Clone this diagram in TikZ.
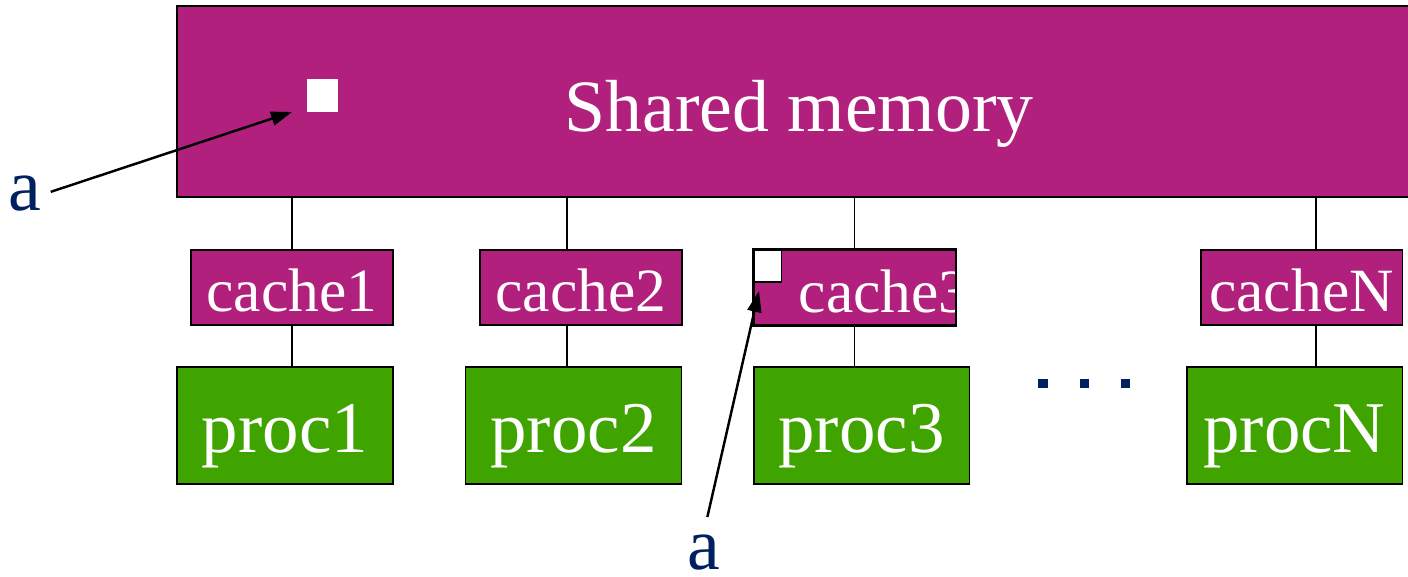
\documentclass[tikz,border=0pt]{standalone}
\usepackage{fontspec}
\setmainfont{Liberation Serif}
\usetikzlibrary{arrows.meta}
\definecolor{memred}{RGB}{177,32,124}
\definecolor{procgreen}{RGB}{64,164,0}
\definecolor{labelblue}{RGB}{0,32,96}

\begin{document}
\begin{tikzpicture}[x=0.02cm, y=-0.02cm, line width=1.1pt,
	membox/.style={draw, fill=memred, inner sep=0pt},
	memtext/.style={text=white, inner sep=0pt, font=\fontsize{42}{48}\selectfont},
	cachebox/.style={draw, fill=memred, text=white, inner sep=0pt,
		minimum width=4.04cm, text height=1.24cm, text depth=0.26cm,
		font=\fontsize{35}{40}\selectfont},
	procbox/.style={draw, fill=procgreen, text=white, inner sep=0pt,
		minimum width=4.32cm, text height=1.72cm, text depth=0.62cm,
		font=\fontsize{41.5}{48}\selectfont},
	blockbox/.style={fill=white, inner sep=0pt},
	pointlabel/.style={text=labelblue, inner sep=1pt, font=\fontsize{42}{48}\selectfont},
	pointer/.style={line width=1.4pt, -{Triangle[length=0.42cm, width=0.28cm]}}]
	\useasboundingbox (0,0) rectangle (1408,577);
	% shared memory
	\node[membox, minimum width=24.86cm, minimum height=3.82cm] (mem) at (798.5,101.5) {};
	\node[memtext, anchor=base] (memlabel) at (799,132) {Shared memory};
	\node[blockbox, minimum width=0.62cm, minimum height=0.66cm] (blkmem) at (322.5,95.5) {};
	% caches
	\node[cachebox] (cache1) at (292,287.5) {cache1};
	\node[cachebox] (cache2) at (581,287.5) {cache2};
	\node[cachebox] (cache3) at (854.5,287.5) {};
	\begin{scope}
		\clip (cache3.south west) rectangle (cache3.north east);
		\node[memtext, font=\fontsize{35}{40}\selectfont, anchor=base west] (cache3label) at (798,312) {cache3};
	\end{scope}
	\draw (cache3.south west) rectangle (cache3.north east);
	\node[blockbox, draw, anchor=north west, minimum width=0.56cm, minimum height=0.64cm] (blkcache) at (cache3.north west) {};
	\node[cachebox] (cacheN) at (1301.5,287.5) {cacheN};
	% processors
	\node[procbox] (proc1) at (285,425.5) {proc1};
	\node[procbox] (proc2) at (573.5,425.5) {proc2};
	\node[procbox] (proc3) at (861.5,425.5) {proc3};
	\node[procbox] (procN) at (1294.5,425.5) {procN};
	% bus taps
	\coordinate (tap2) at (567,0);
	\coordinate (tapN) at (1316,0);
	\draw (cache1.north |- mem.south) -- (cache1.north);
	\draw (cache1.south) -- (cache1.south |- proc1.north);
	\draw (tap2 |- mem.south) -- (tap2 |- cache2.north);
	\draw (tap2 |- cache2.south) -- (tap2 |- proc2.north);
	\draw (cache3.north |- mem.south) -- (cache3.north);
	\draw (cache3.south) -- (cache3.south |- proc3.north);
	\draw (tapN |- mem.south) -- (tapN |- cacheN.north);
	\draw (tapN |- cacheN.south) -- (tapN |- procN.north);
	% dots
	\fill[labelblue] (1038,379) rectangle (1048,388);
	\fill[labelblue] (1080,379) rectangle (1089,388);
	\fill[labelblue] (1121,379) rectangle (1130,388);
	% the two copies of a
	\coordinate (tip1) at (292,112);
	\coordinate (tip2) at (759,291);
	\node[pointlabel, anchor=base] (a1) at (25,211) {a};
	\node[pointlabel, anchor=base] (a2) at (704,569) {a};
	\draw[pointer, shorten <=0.14cm] (a1.east) -- (tip1);
	\draw[pointer, shorten <=0.3cm] (a2.north) -- (tip2);
\end{tikzpicture}
\end{document}
